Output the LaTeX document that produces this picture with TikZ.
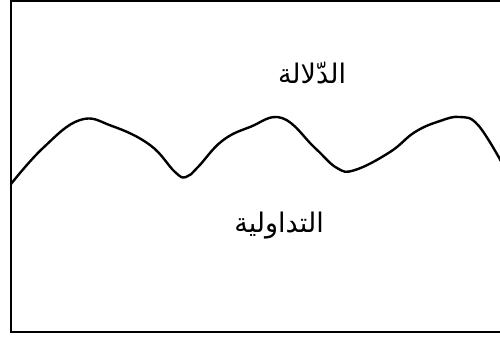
\documentclass[tikz,border=0pt]{standalone}
\usepackage{fontspec}
\newfontfamily\arabicfont[Script=Arabic]{DejaVu Sans}
\TeXXeTstate=1

\begin{document}
\begin{tikzpicture}[x=1pt, y=-1pt, line width=2.4pt,
  field/.style={font=\arabicfont\fontsize{27}{30}\selectfont, inner sep=0pt}]
  \clip (0,0) rectangle (500,341);
  % frame, open on the right side
  \draw (520,1) -- (11,1) -- (11,332) -- (520,332);
  % wavy border between the two fields
  \draw[line join=round, smooth, tension=0.7] plot coordinates {
    (11,184) (43,148) (80,120) (112,126) (150,145)
    (175,172) (186,177) (198,167) (222,141) (250,127) (282,118)
    (315,148) (337,168) (355,170) (390,152) (415,132) (440,121)
    (460,117) (478,125) (502,163)};
  \node[field] (dalala)  at (312,73)  {\beginR الدّلالة\endR};
  \node[field] (tadawul) at (279,226) {\beginR التداولية\endR};
\end{tikzpicture}
\end{document}
